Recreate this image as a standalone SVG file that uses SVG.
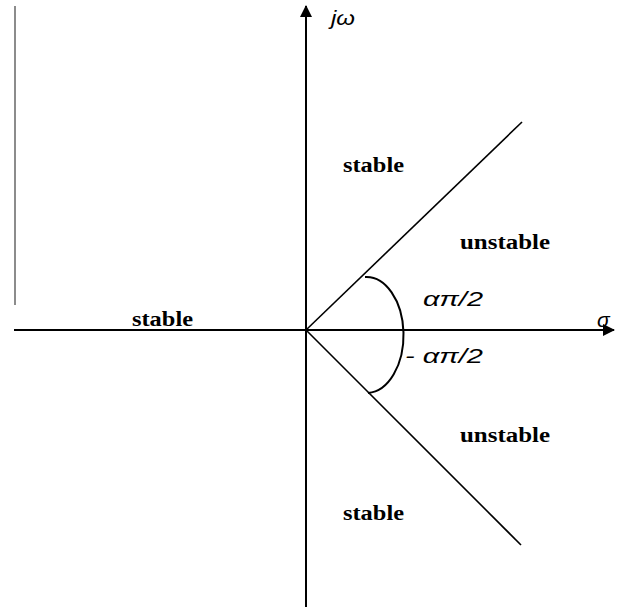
<svg xmlns="http://www.w3.org/2000/svg" width="622" height="607" viewBox="0 0 622 607">
<style>
.ax{stroke:#000;stroke-width:2;fill:none}
.ln{stroke:#000;stroke-width:1.6;fill:none}
.lbl{font-family:"Liberation Serif",serif;font-weight:bold;font-size:20px;fill:#000}
.math{font-family:"Liberation Sans",sans-serif;font-style:italic;font-size:21px;fill:#000}
</style>
<defs>
<marker id="ah" viewBox="0 0 12 12" refX="11" refY="6" markerWidth="12" markerHeight="12" markerUnits="userSpaceOnUse" orient="auto">
<path d="M0,0 L12,6 L0,12 Z" fill="#000"/>
</marker>
</defs>
<rect width="622" height="607" fill="#fff"/>
<line x1="15" y1="6" x2="15" y2="305" stroke="#666" stroke-width="1.5"/>
<g id="connectors">
<line class="ax" x1="306" y1="607" x2="306" y2="6" marker-end="url(#ah)"/>
<line class="ax" x1="14" y1="330" x2="614" y2="330" marker-end="url(#ah)"/>
<line class="ln" x1="306" y1="330" x2="522" y2="122"/>
<line class="ln" x1="306" y1="330" x2="521" y2="545"/>
<path class="ax" d="M365,277 A37,58 0 0 1 368,393"/>
</g>
<g id="labels">
<text class="math" x="331" y="25" textLength="24" lengthAdjust="spacingAndGlyphs">jω</text>
<text class="math" x="597" y="327">σ</text>
<text class="lbl" x="343" y="172" textLength="61" lengthAdjust="spacingAndGlyphs">stable</text>
<text class="lbl" x="460" y="249" textLength="90" lengthAdjust="spacingAndGlyphs">unstable</text>
<text class="lbl" x="132" y="326" textLength="61" lengthAdjust="spacingAndGlyphs">stable</text>
<text class="math" x="423" y="306" textLength="60" lengthAdjust="spacingAndGlyphs">απ/2</text>
<text class="math" x="405" y="363" textLength="78" lengthAdjust="spacingAndGlyphs">- απ/2</text>
<text class="lbl" x="460" y="442" textLength="90" lengthAdjust="spacingAndGlyphs">unstable</text>
<text class="lbl" x="343" y="520" textLength="61" lengthAdjust="spacingAndGlyphs">stable</text>
</g>
</svg>
